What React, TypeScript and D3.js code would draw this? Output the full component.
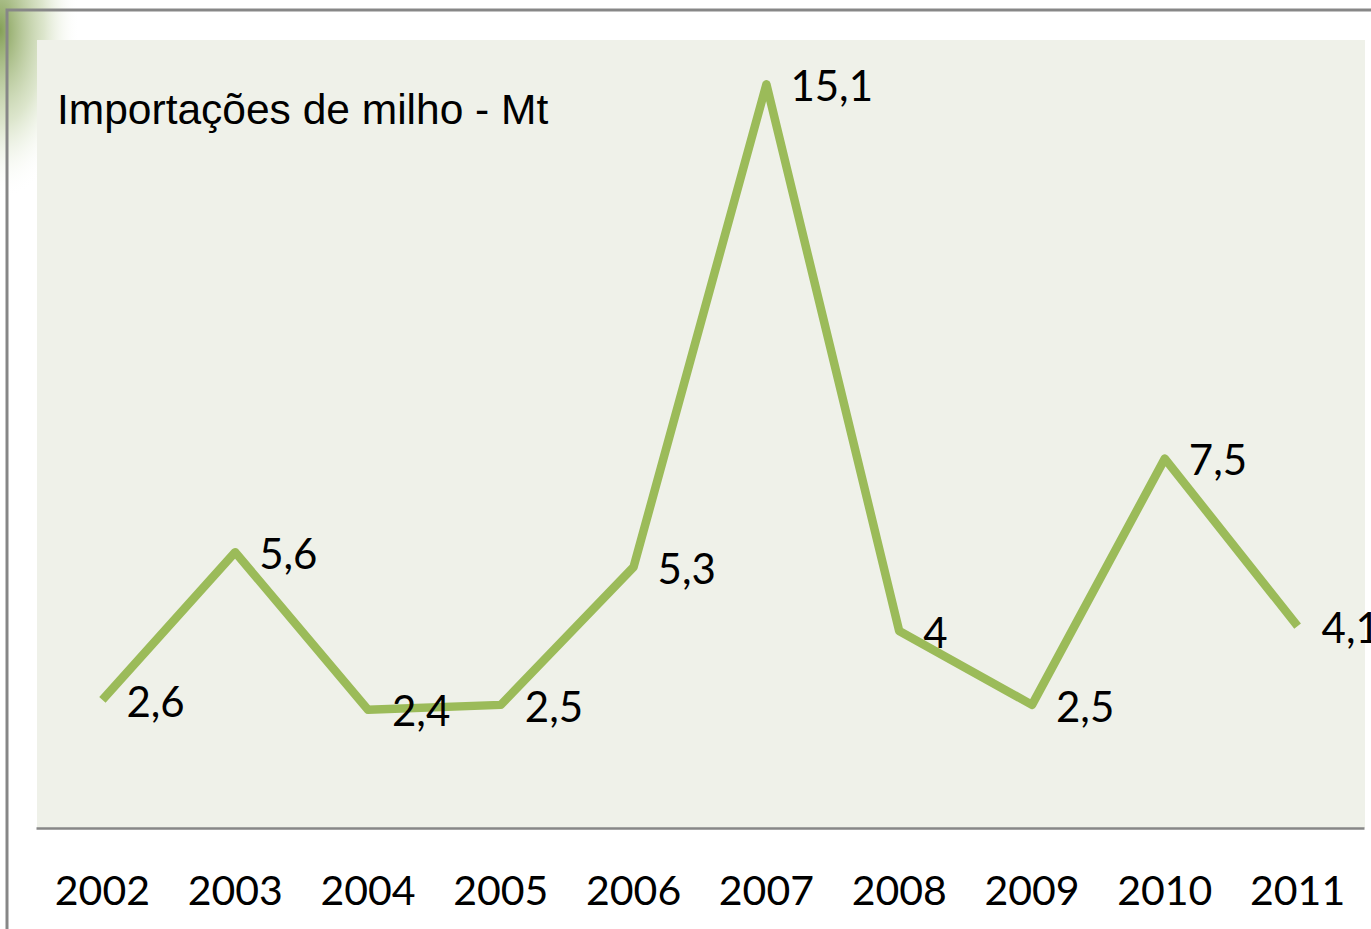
import * as d3 from 'd3';
import { useRef, useEffect } from 'react';

// --- data ---
const years = ['2002', '2003', '2004', '2005', '2006', '2007', '2008', '2009', '2010', '2011'];
const imports = [2.6, 5.6, 2.4, 2.5, 5.3, 15.1, 4, 2.5, 7.5, 4.1];
const valueLabels = ['2,6', '5,6', '2,4', '2,5', '5,3', '15,1', '4', '2,5', '7,5', '4,1'];
const title = 'Importações de milho - Mt';

export default function App() {
  const ref = useRef<SVGSVGElement>(null);

  useEffect(() => {
    const width = 1371;
    const height = 929;
    const plotLeft = 36;
    const plotRight = 1364;
    const plotTop = 40;
    const plotBottom = 828;

    const data = years.map((y, i) => ({ year: y, value: imports[i], label: valueLabels[i] }));

    const x = d3.scaleBand()
      .domain(years)
      .range([plotLeft, plotRight]);

    const y = d3.scaleLinear()
      .domain([0, 16])
      .range([plotBottom, plotTop]);

    const svg = d3.select(ref.current)
      .attr('width', width)
      .attr('height', height)
      .attr('viewBox', `0 0 ${width} ${height}`);

    svg.selectAll('*').remove();

    // green blob in the corner
    const defs = svg.append('defs');
    const grad = defs.append('radialGradient').attr('id', 'corner');
    grad.append('stop').attr('offset', '0%').attr('stop-color', '#6f8f3a').attr('stop-opacity', 0.85);
    grad.append('stop').attr('offset', '55%').attr('stop-color', '#a8bf80').attr('stop-opacity', 0.4);
    grad.append('stop').attr('offset', '100%').attr('stop-color', '#ffffff').attr('stop-opacity', 0);

    svg.append('rect').attr('width', width).attr('height', height).attr('fill', '#fff');
    svg.append('ellipse')
      .attr('cx', 0).attr('cy', 30)
      .attr('rx', 80).attr('ry', 170)
      .attr('fill', 'url(#corner)');

    // outer frame (top + left)
    svg.append('path')
      .attr('d', `M7,${height} V10 H${width}`)
      .attr('fill', 'none')
      .attr('stroke', '#878787')
      .attr('stroke-width', 3);

    // plot area
    svg.append('rect')
      .attr('x', plotLeft + 1)
      .attr('y', plotTop)
      .attr('width', plotRight - plotLeft)
      .attr('height', plotBottom - plotTop)
      .attr('fill', '#eff1e9');

    // x axis
    svg.append('g')
      .attr('transform', `translate(0,${plotBottom})`)
      .call(d3.axisBottom(x).tickSize(0).tickPadding(48))
      .call(g => g.select('.domain').attr('stroke', '#878787').attr('stroke-width', 2.5))
      .call(g => g.selectAll('.tick text')
        .attr('font-family', 'Lato, sans-serif')
        .attr('font-size', 41)
        .attr('fill', '#000'));

    // line
    const line = d3.line<{ year: string; value: number }>()
      .x(d => x(d.year)! + x.bandwidth() / 2)
      .y(d => y(d.value));

    svg.append('path')
      .datum(data)
      .attr('d', line)
      .attr('fill', 'none')
      .attr('stroke', '#9bbb59')
      .attr('stroke-width', 8.5)
      .attr('stroke-linejoin', 'round');

    // value labels
    svg.append('g')
      .selectAll('text')
      .data(data)
      .join('text')
        .attr('x', d => x(d.year)! + x.bandwidth() / 2 + 24)
        .attr('y', d => y(d.value) + 6)
        .attr('dominant-baseline', 'middle')
        .attr('font-family', 'Lato, sans-serif')
        .attr('font-size', 42)
        .attr('fill', '#000')
        .text(d => d.label);

    // title
    svg.append('text')
      .attr('x', 57)
      .attr('y', 124)
      .attr('font-family', 'Liberation Sans, Arial, sans-serif')
      .attr('font-size', 42.5)
      .attr('fill', '#000')
      .text(title);
  }, []);

  return (
    <div style={{ position: 'absolute', left: 0, top: 0 }}>
      <svg ref={ref} style={{ display: 'block' }}></svg>
    </div>
  );
}
